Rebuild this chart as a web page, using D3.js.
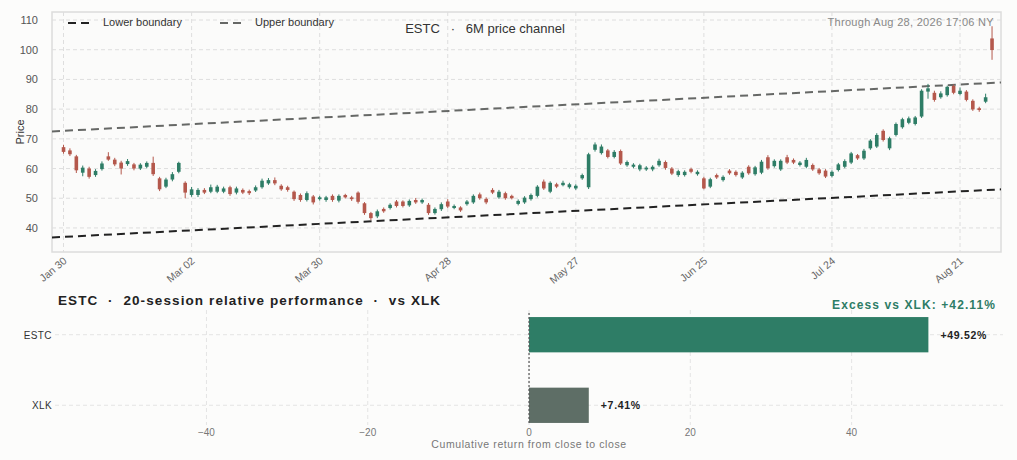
<!DOCTYPE html>
<html>
<head>
<meta charset="utf-8">
<script src="https://cdn.jsdelivr.net/npm/d3@7"></script>
<style>
  body { margin: 0; background: #fcfcfb; font-family: "Liberation Sans", Arial, sans-serif; }
  svg text { font-family: "Liberation Sans", Arial, sans-serif; }
</style>
</head>
<body>
<svg width="1017" height="460"></svg>
<script>
// candles, one per session from Jan 30 to Aug 28
var opens = [67.2,66.1,64.1,58.6,60.0,57.8,59.8,64.1,63.0,62.0,61.5,61.4,60.0,60.6,61.9,56.7,53.9,56.3,58.9,55.2,
  51.1,51.1,52.8,52.2,52.2,52.2,53.7,51.9,52.8,52.4,52.6,53.7,55.0,56.1,54.2,53.7,52.2,51.1,49.4,50.6,
  49.7,49.4,50.8,49.2,51.1,50.3,51.9,48.3,45.0,43.9,46.4,46.7,48.9,48.9,47.6,49.4,48.6,47.8,45.0,46.3,
  48.9,46.7,46.9,48.0,48.6,51.3,49.8,52.8,50.3,51.7,50.8,48.1,48.6,49.7,50.8,55.6,52.2,54.7,54.4,53.7,
  53.3,56.7,53.7,66.3,65.2,66.1,63.9,65.9,61.1,60.6,59.7,59.7,59.7,61.1,62.2,60.0,57.8,57.8,59.8,58.1,
  56.7,53.9,57.8,56.1,59.3,58.9,57.0,60.6,58.1,58.6,63.8,60.8,59.7,63.8,62.9,61.2,60.6,61.2,59.7,59.3,
  57.5,59.5,60.6,62.0,64.5,63.4,66.8,67.4,72.7,66.8,71.3,73.9,75.4,75.0,77.5,85.9,85.5,84.0,84.7,87.8,
  85.1,85.9,82.8,80.3,82.5,103.8];
var closes = [65.6,64.8,59.4,60.3,57.2,59.2,61.7,63.0,61.4,60.0,62.5,60.0,61.3,61.9,58.1,53.0,56.3,58.1,61.9,51.9,
  53.0,52.8,51.9,53.7,53.9,53.3,51.4,53.3,51.9,51.7,53.7,55.9,56.1,55.0,53.0,52.8,49.7,49.4,51.7,48.6,
  50.3,50.3,49.4,50.8,50.3,49.7,48.8,45.0,43.3,45.6,45.6,47.8,47.4,47.4,49.1,48.6,49.4,45.0,46.4,48.0,
  47.2,47.4,45.9,48.9,50.8,50.0,48.6,51.9,52.2,50.0,50.0,49.1,50.2,51.1,53.9,53.3,55.2,53.9,55.2,54.7,
  54.2,57.8,64.8,68.1,67.4,63.9,65.6,61.7,62.2,61.3,61.1,60.3,60.6,62.6,60.2,58.3,59.1,58.9,58.9,58.9,
  53.3,56.4,57.0,57.2,58.4,57.8,58.6,58.4,60.4,62.3,60.1,62.6,62.6,62.0,62.0,62.0,62.9,59.7,58.4,57.3,
  58.9,61.4,62.5,65.1,63.4,66.0,69.4,71.3,69.6,70.2,75.0,76.6,76.9,77.2,86.2,87.0,83.1,85.3,87.5,85.5,
  86.2,83.1,79.9,79.7,84.0,99.9];
var highs = [68.0,66.8,64.6,61.0,60.6,59.8,62.4,65.5,63.6,62.6,63.2,61.9,61.8,62.4,64.0,57.2,56.9,58.8,62.3,55.7,
  53.8,53.4,53.4,54.6,54.5,53.9,54.2,53.9,53.3,52.9,54.3,56.6,56.8,57.0,54.7,54.2,52.6,51.6,52.3,51.1,
  50.8,50.8,51.3,51.3,51.5,50.8,52.3,48.7,45.4,46.2,46.9,48.3,49.4,49.3,49.6,50.1,49.9,48.4,46.9,48.6,
  49.7,47.9,47.3,49.4,51.3,51.9,50.3,53.4,52.8,52.2,51.2,49.6,50.7,51.6,54.4,56.3,55.7,55.2,55.9,55.2,
  54.7,58.3,65.3,68.8,68.1,66.6,66.2,66.4,62.7,61.8,61.6,60.8,61.1,63.3,62.7,60.5,59.6,59.4,60.3,59.4,
  57.2,56.9,58.3,57.7,59.8,59.4,59.1,61.1,60.9,62.9,64.5,63.1,63.1,64.6,63.4,62.5,63.6,61.7,60.2,59.8,
  59.4,61.9,63.1,65.6,64.9,66.6,69.9,71.9,73.2,70.7,75.5,77.1,77.5,77.7,86.7,88.5,86.2,86.0,87.9,88.3,
  87.3,86.4,83.3,80.8,85.2,107.9];
var lows = [65.0,64.2,58.5,57.4,56.6,57.2,59.3,62.6,60.8,58.0,60.9,59.4,59.5,60.1,57.5,52.4,53.4,55.7,58.4,50.0,
  50.5,50.4,51.4,51.7,51.7,51.7,50.8,51.3,51.4,51.1,52.1,53.2,54.5,54.4,52.5,52.2,49.1,48.8,48.9,47.9,
  49.2,48.8,48.8,48.6,49.9,49.1,48.2,44.4,42.6,43.3,45.1,46.2,46.9,46.9,47.1,48.1,48.1,44.4,44.5,45.7,
  46.7,46.3,45.4,47.5,48.1,49.5,48.0,51.4,49.8,49.5,49.6,47.6,48.1,49.2,50.3,52.8,51.7,53.4,54.0,53.2,
  52.8,56.2,53.1,65.7,64.7,63.4,63.4,61.2,60.6,60.1,59.1,59.2,59.1,60.6,59.6,57.8,57.2,57.3,58.4,57.6,
  53.0,53.4,56.5,55.6,57.9,57.3,56.5,57.9,57.6,58.1,59.6,60.3,59.2,61.5,61.5,60.7,60.1,59.2,57.9,56.8,
  57.0,59.0,60.1,61.5,62.9,62.9,66.3,66.9,69.1,66.2,70.8,73.4,74.9,74.5,77.0,83.5,82.5,83.5,84.2,85.0,
  84.6,82.6,79.4,79.1,82.0,96.6];
var tickIndex = [0, 20, 40, 60, 80, 100, 120, 140];
var tickLabels = ["Jan 30", "Mar 02", "Mar 30", "Apr 28", "May 27", "Jun 25", "Jul 24", "Aug 21"];
var priceTicks = [40, 50, 60, 70, 80, 90, 100, 110];
// channel end points (session index, price)
var lowerBoundary = [[-1.8, 36.8], [146.4, 53.0]];
var upperBoundary = [[-1.8, 72.5], [146.4, 89.0]];

// relative performance panel
var perfNames = ["ESTC", "XLK"];
var perfValues = [49.52, 7.41];
var perfTicks = [-40, -20, 0, 20, 40];
var excess = 42.11;

var GREEN = "#2e7d66", RED = "#b4584c", UP = "#666866", LOW = "#222";
var svg = d3.select("svg");

// ---- price chart ----
var pl = 52, pr = 1001, pt = 12, pb = 252;
var x = d3.scaleLinear().domain([-1.8, 146.4]).range([pl, pr]);
var y = d3.scaleLinear().domain([31.9, 112.7]).range([pb, pt]);

svg.append("rect").attr("x", pl).attr("y", pt).attr("width", pr - pl).attr("height", pb - pt)
  .attr("fill", "#fbfbfa").attr("stroke", "#dcdcdc").attr("stroke-width", 1.5);

var g = svg.append("g");
g.selectAll(".hg").data(priceTicks).enter().append("line")
  .attr("x1", pl).attr("x2", pr).attr("y1", d => y(d)).attr("y2", d => y(d))
  .attr("stroke", "#dedede").attr("stroke-dasharray", "4,3");
g.selectAll(".vg").data(tickIndex).enter().append("line")
  .attr("y1", pt).attr("y2", pb).attr("x1", d => x(d)).attr("x2", d => x(d))
  .attr("stroke", "#dedede").attr("stroke-dasharray", "4,3");

g.selectAll(".yl").data(priceTicks).enter().append("text")
  .attr("x", 38).attr("y", d => y(d) + 4).attr("text-anchor", "end")
  .attr("font-size", 11).attr("fill", "#555").text(d => d);
g.selectAll(".xl").data(tickIndex).enter().append("text")
  .attr("transform", d => "translate(" + (x(d) + 4) + "," + (pb + 10) + ") rotate(-40)")
  .attr("text-anchor", "end").attr("font-size", 10.5).attr("fill", "#666")
  .text((d, i) => tickLabels[i]);
svg.append("text").attr("transform", "translate(24," + ((pt + pb) / 2) + ") rotate(-90)")
  .attr("text-anchor", "middle").attr("font-size", 11).attr("fill", "#333").text("Price");

var line = d3.line().x(d => x(d[0])).y(d => y(d[1]));
g.append("path").datum(upperBoundary).attr("d", line).attr("fill", "none")
  .attr("stroke", UP).attr("stroke-width", 2).attr("stroke-dasharray", "8,5");
g.append("path").datum(lowerBoundary).attr("d", line).attr("fill", "none")
  .attr("stroke", LOW).attr("stroke-width", 2).attr("stroke-dasharray", "8,5");

var cw = 3.6;
var candles = g.selectAll(".c").data(opens).enter().append("g");
candles.append("line")
  .attr("x1", (d, i) => x(i)).attr("x2", (d, i) => x(i))
  .attr("y1", (d, i) => y(highs[i])).attr("y2", (d, i) => y(lows[i]))
  .attr("stroke", (d, i) => closes[i] >= d ? GREEN : RED).attr("stroke-width", 1);
candles.append("rect")
  .attr("x", (d, i) => x(i) - cw / 2).attr("width", cw)
  .attr("y", (d, i) => y(Math.max(d, closes[i])))
  .attr("height", (d, i) => Math.max(1, Math.abs(y(d) - y(closes[i]))))
  .attr("fill", (d, i) => closes[i] >= d ? GREEN : RED);

// legend
var leg = svg.append("g").attr("font-size", 11).attr("fill", "#333");
[["Lower boundary", LOW, 68], ["Upper boundary", UP, 220]].forEach(function(l) {
  leg.append("line").attr("x1", l[2]).attr("x2", l[2] + 22).attr("y1", 23).attr("y2", 23)
    .attr("stroke", l[1]).attr("stroke-width", 2).attr("stroke-dasharray", "8,5");
  leg.append("text").attr("x", l[2] + 35).attr("y", 26).attr("fill", "#333").text(l[0]);
});
svg.append("text").attr("x", 485).attr("y", 33).attr("text-anchor", "middle")
  .attr("font-size", 13).attr("fill", "#333").attr("xml:space", "preserve")
  .text("ESTC   \u00b7   6M price channel");
svg.append("text").attr("x", 994).attr("y", 26).attr("text-anchor", "end")
  .attr("font-size", 11).attr("fill", "#888").attr("letter-spacing", 0.3).text("Through Aug 28, 2026 17:06 NY");

// ---- relative performance bars ----
var bx = d3.scaleLinear().domain([-59.4, 58.4]).range([50, 1000]);
var by = d3.scaleBand().domain(perfNames).range([298, 442]).paddingInner(0.5).paddingOuter(0.27);
var b = svg.append("g");
b.selectAll(".bv").data(perfTicks).enter().append("line")
  .attr("x1", d => bx(d)).attr("x2", d => bx(d)).attr("y1", 310).attr("y2", 425)
  .attr("stroke", "#e4e4e4").attr("stroke-dasharray", "4,3");
b.selectAll(".bh").data(perfNames).enter().append("line")
  .attr("x1", 55).attr("x2", 1003).attr("y1", d => by(d) + by.bandwidth() / 2).attr("y2", d => by(d) + by.bandwidth() / 2)
  .attr("stroke", "#e4e4e4").attr("stroke-dasharray", "4,3");
b.selectAll(".bar").data(perfValues).enter().append("rect")
  .attr("x", bx(0)).attr("y", (d, i) => by(perfNames[i]))
  .attr("width", d => bx(d) - bx(0)).attr("height", by.bandwidth())
  .attr("fill", (d, i) => i === 0 ? GREEN : "#5e6e66");
b.append("line").attr("x1", bx(0)).attr("x2", bx(0)).attr("y1", 313).attr("y2", 425)
  .attr("stroke", "#555").attr("stroke-width", 1.2).attr("stroke-dasharray", "2,2");
b.selectAll(".bl").data(perfValues).enter().append("text")
  .attr("x", d => bx(d) + 12).attr("y", (d, i) => by(perfNames[i]) + by.bandwidth() / 2 + 4)
  .attr("font-size", 10.5).attr("font-weight", "bold").attr("fill", "#222").attr("letter-spacing", 0.7)
  .text(d => "+" + d.toFixed(2) + "%");
b.selectAll(".cn").data(perfNames).enter().append("text")
  .attr("x", 52).attr("y", d => by(d) + by.bandwidth() / 2 + 4).attr("text-anchor", "end")
  .attr("font-size", 10).attr("fill", "#333").attr("letter-spacing", 0.4).text(d => d);
b.selectAll(".tk").data(perfTicks).enter().append("text")
  .attr("x", d => bx(d)).attr("y", 436).attr("text-anchor", "middle")
  .attr("font-size", 10).attr("fill", "#777").text(d => d < 0 ? "\u2212" + (-d) : d);
svg.append("text").attr("x", bx(0)).attr("y", 448).attr("text-anchor", "middle")
  .attr("font-size", 10.5).attr("fill", "#777").attr("letter-spacing", 0.6)
  .text("Cumulative return from close to close");
svg.append("text").attr("x", 58).attr("y", 305).attr("font-size", 13.5).attr("font-weight", "bold")
  .attr("fill", "#222").attr("letter-spacing", 1.1).attr("xml:space", "preserve")
  .text("ESTC  \u00b7  20-session relative performance  \u00b7  vs XLK");
svg.append("text").attr("x", 996).attr("y", 309).attr("text-anchor", "end").attr("font-size", 12)
  .attr("font-weight", "bold").attr("fill", GREEN).attr("letter-spacing", 1.1)
  .text("Excess vs XLK: +" + excess.toFixed(2) + "%");
</script>
</body>
</html>
